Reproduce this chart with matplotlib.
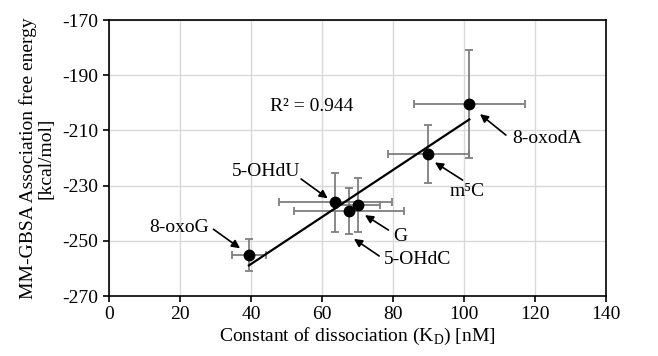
import numpy as np
import matplotlib
matplotlib.use("Agg")
import matplotlib.pyplot as plt

plt.rcParams['font.family'] = ['Liberation Serif', 'DejaVu Serif']
plt.rcParams['mathtext.fontset'] = 'custom'
plt.rcParams['mathtext.rm'] = 'Liberation Serif'
plt.rcParams['axes.unicode_minus'] = False

labels = ["8-oxoG", "5-OHdU", "5-OHdC", "G", "m⁵C", "8-oxodA"]
kd = [39.4, 63.7, 67.6, 70.2, 89.9, 101.5]
kd_err = [4.8, 15.9, 15.4, 6.0, 11.4, 15.6]
energy = [-255.1, -236.1, -239.2, -237.1, -218.7, -200.4]
energy_err = [5.7, 10.6, 8.3, 9.8, 10.5, 19.6]

# label text positions and arrow tail/head positions (data coords)
text_pos = [(28.3, -245.2), (53.8, -225.0), (77.3, -256.7), (80.0, -248.5), (96.0, -232.2), (113.7, -212.9)]
text_ha = ["right", "right", "left", "left", "left", "left"]
arrow_tail = [(29.4, -245.8), (54.1, -227.6), (76.1, -255.5), (78.7, -246.1), (99.6, -228.0), (111.8, -211.7)]
arrow_head = [(36.9, -252.7), (61.6, -234.6), (69.0, -249.3), (72.1, -240.7), (91.8, -221.6), (104.5, -204.1)]

fig = plt.figure(figsize=(6.58, 3.56), dpi=100)
ax = fig.add_axes([0.1657, 0.1685, 0.921 - 0.1657, 0.9438 - 0.1685])

ax.errorbar(kd, energy, xerr=kd_err, yerr=energy_err, fmt='none',
            ecolor='#7f7f7f', elinewidth=1.3, capsize=3, capthick=1.3, zorder=2)

# linear trendline
m, b = np.polyfit(kd, energy, 1)
xl = np.array([min(kd), max(kd)])
ax.plot(xl, m * xl + b, color='black', lw=1.6, zorder=3)

ax.plot(kd, energy, 'o', color='black', markersize=7.5, zorder=4)

for lab, tp, ha, t, h in zip(labels, text_pos, text_ha, arrow_tail, arrow_head):
    ax.text(tp[0], tp[1], lab, ha=ha, va='center', fontsize=14)
    ax.annotate('', xy=h, xytext=t,
                arrowprops=dict(arrowstyle='-|>', color='black', lw=1.2,
                                mutation_scale=12, shrinkA=0, shrinkB=0))

ax.text(45.4, -201.5, "R² = 0.944", ha='left', va='center', fontsize=14)

ax.set_xlim(0, 140)
ax.set_ylim(-270, -170)
ax.set_xticks(np.arange(0, 141, 20))
ax.set_yticks(np.arange(-270, -169, 20))
ax.grid(True, color='#d9d9d9', lw=1)
ax.set_axisbelow(True)
ax.tick_params(labelsize=14, direction='out', length=4, width=1.2, colors='black')
for s in ax.spines.values():
    s.set_linewidth(1.2)
    s.set_color('black')

ax.set_xlabel("Constant of dissociation (K$_\\mathregular{D}$) [nM]", fontsize=14, labelpad=2)
ax.set_ylabel("MM-GBSA Association free energy\n[kcal/mol]", fontsize=14, labelpad=6, linespacing=1.0)

fig.savefig("out.png", dpi=100)
